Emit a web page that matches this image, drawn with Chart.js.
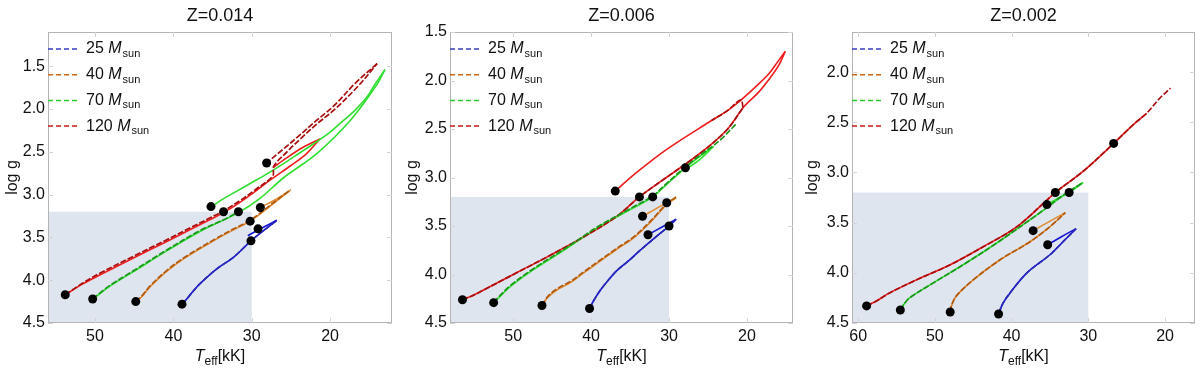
<!DOCTYPE html>
<html>
<head>
<meta charset="utf-8">
<script src="https://cdn.jsdelivr.net/npm/chart.js@4.4.1/dist/chart.umd.min.js"></script>
<style>
body { margin: 0; background: #fff; }
#wrap { display: flex; width: 1200px; height: 370px; }
.panel { width: 400px; height: 370px; }
</style>
</head>
<body>
<div id="wrap">
  <div class="panel"><canvas id="c1" width="400" height="370"></canvas></div>
  <div class="panel"><canvas id="c2" width="400" height="370"></canvas></div>
  <div class="panel"><canvas id="c3" width="400" height="370"></canvas></div>
</div>
<script>
// tracks: [Teff (kK), log g]

const masses = ["25", "40", "70", "120"];
const panelTitles = ["Z=0.014", "Z=0.006", "Z=0.002"];

// ---- Z=0.014 ----
const z014_25_solid = [[38.9,4.28],[38.3,4.22],[37.4,4.12],[36.6,4.04],[34.5,3.87],[32.3,3.73],[30.1,3.54],[28.5,3.42],[26.8,3.30],[28.7,3.39],[30.5,3.48]];
const z014_25_dash = [[38.9,4.28],[38.3,4.22],[37.4,4.12],[36.6,4.04],[34.5,3.87],[32.3,3.73],[30.1,3.54],[28.5,3.42],[26.9,3.31]];
const z014_40_solid = [[44.8,4.25],[44.0,4.19],[43.0,4.08],[40.9,3.90],[38.7,3.75],[34.5,3.52],[32.3,3.41],[30.2,3.31],[27.6,3.13],[25.1,2.95],[27.0,3.06],[28.9,3.15]];
const z014_40_dash = [[44.8,4.25],[44.0,4.18],[43.0,4.07],[40.9,3.89],[38.7,3.74],[34.5,3.51],[32.3,3.40],[30.2,3.30],[27.6,3.12],[25.0,2.94]];
const z014_70_solid = [[50.3,4.22],[49.4,4.16],[48.1,4.07],[45.1,3.90],[40.9,3.66],[36.6,3.43],[31.7,3.21],[28.9,3.04],[25.9,2.80],[21.7,2.52],[17.4,2.13],[14.0,1.71],[13.0,1.54],[14.2,1.70],[15.3,1.86],[17.0,2.03],[18.5,2.15],[20.0,2.27],[22.0,2.40],[24.0,2.52],[26.0,2.64],[28.1,2.76],[30.2,2.87],[32.3,2.98],[34.0,3.07],[35.5,3.17]];
const z014_70_dash = [[50.3,4.22],[49.4,4.15],[48.1,4.06],[45.1,3.89],[40.9,3.65],[36.6,3.42],[33.5,3.29],[31.7,3.20]];
const z014_120_solid = [[53.8,4.17],[51.5,4.04],[49.4,3.94],[45.1,3.74],[40.9,3.55],[37.9,3.41],[35.5,3.30],[33.6,3.21],[31.5,3.09],[29.5,2.96],[27.5,2.82],[25.0,2.66],[23.0,2.52],[21.3,2.35],[23.5,2.45],[26.0,2.60],[27.2,2.68]];
const z014_120_dash = [[53.8,4.17],[51.5,4.03],[49.4,3.92],[45.1,3.72],[40.9,3.53],[37.9,3.39],[35.5,3.28],[33.6,3.19],[31.5,3.07],[29.5,2.94],[27.3,2.78],[27.2,2.67],[25.5,2.50],[23.8,2.35],[21.5,2.16],[19.6,2.02],[16.5,1.74],[14.0,1.47],[16.8,1.70],[19.6,1.97],[21.7,2.13],[23.8,2.30],[26.0,2.47],[28.1,2.63]];
const z014_dots = [[38.9,4.28],[30.1,3.54],[29.2,3.40],[44.8,4.25],[30.2,3.31],[28.9,3.15],[50.3,4.22],[31.7,3.20],[35.2,3.14],[53.8,4.17],[33.6,3.20],[28.1,2.63]];

// ---- Z=0.006 ----
const z006_25_solid = [[40.2,4.35],[39.6,4.26],[38.8,4.16],[37.8,4.06],[36.7,3.96],[35.2,3.86],[33.7,3.75],[31.8,3.62],[30.0,3.50],[29.1,3.43],[30.9,3.51],[32.7,3.59]];
const z006_25_dash = [[40.2,4.35],[39.6,4.26],[38.8,4.16],[37.8,4.06],[36.7,3.96],[35.2,3.86],[33.7,3.75],[31.8,3.62],[30.0,3.50],[29.1,3.43]];
const z006_40_solid = [[46.3,4.32],[45.6,4.24],[44.4,4.16],[42.6,4.08],[40.9,3.98],[38.8,3.86],[36.7,3.74],[34.5,3.62],[32.5,3.47],[30.3,3.28],[29.1,3.21],[31.2,3.30],[33.4,3.40]];
const z006_40_dash = [[46.3,4.32],[45.6,4.23],[44.4,4.15],[42.6,4.07],[40.9,3.97],[38.8,3.85],[36.7,3.73],[34.5,3.61],[32.5,3.46],[30.3,3.27],[29.1,3.20]];
const z006_70_solid = [[52.5,4.29],[51.6,4.22],[50.3,4.12],[47.4,3.95],[43.1,3.73],[38.8,3.50],[34.5,3.31],[32.1,3.20],[30.3,3.07],[27.9,2.90],[26.0,2.78],[24.3,2.68],[26.0,2.81],[27.9,2.92]];
const z006_70_dash = [[52.5,4.29],[51.6,4.21],[50.3,4.11],[47.4,3.94],[43.1,3.72],[38.8,3.49],[34.5,3.30],[32.1,3.19],[30.3,3.06],[27.9,2.89],[26.0,2.77],[24.3,2.67],[23.0,2.58],[21.3,2.44]];
const z006_120_solid = [[56.5,4.26],[55.0,4.21],[53.8,4.16],[49.5,3.98],[45.2,3.80],[40.9,3.61],[36.7,3.40],[33.8,3.20],[30.7,3.02],[26.0,2.75],[22.6,2.51],[20.4,2.27],[18.5,2.12],[17.0,1.97],[15.9,1.84],[15.1,1.70],[16.0,1.80],[17.2,1.93],[18.7,2.05],[20.9,2.21],[22.5,2.31],[24.7,2.42],[30.3,2.71],[34.5,2.97],[36.9,3.14]];
const z006_120_dash = [[56.5,4.26],[55.0,4.21],[53.8,4.16],[49.5,3.98],[45.2,3.80],[40.9,3.61],[36.7,3.40],[33.8,3.20],[30.7,3.02],[26.0,2.75],[22.6,2.51],[20.5,2.28],[20.8,2.20],[22.5,2.31],[24.5,2.41]];
const z006_dots = [[40.2,4.35],[30.0,3.50],[32.7,3.59],[46.3,4.32],[30.3,3.26],[33.4,3.40],[52.5,4.29],[32.1,3.20],[27.9,2.90],[56.5,4.26],[33.8,3.20],[36.9,3.14]];

// ---- Z=0.002 ----
const z002_25_solid = [[41.7,4.41],[41.1,4.30],[40.2,4.20],[38.0,4.00],[35.0,3.82],[33.3,3.69],[31.6,3.56],[33.5,3.64],[35.3,3.72]];
const z002_25_dash = [[41.7,4.41],[41.1,4.30],[40.2,4.20],[38.0,4.00],[35.0,3.82],[33.3,3.69],[31.6,3.56]];
const z002_40_solid = [[48.0,4.39],[47.8,4.32],[47.2,4.23],[45.0,4.07],[41.5,3.87],[37.6,3.69],[35.0,3.54],[33.0,3.40],[35.1,3.49],[37.2,3.58]];
const z002_40_dash = [[48.0,4.39],[47.8,4.32],[47.2,4.23],[45.0,4.07],[41.5,3.87],[37.6,3.69],[35.0,3.54],[33.0,3.40]];
const z002_70_solid = [[54.5,4.37],[54.1,4.32],[53.3,4.25],[50.2,4.10],[45.9,3.90],[41.5,3.68],[37.2,3.45],[35.4,3.35],[33.5,3.24],[30.7,3.10],[32.5,3.20],[34.0,3.26],[35.4,3.32]];
const z002_70_dash = [[54.5,4.37],[54.1,4.32],[53.3,4.25],[50.2,4.10],[45.9,3.90],[41.5,3.68],[37.2,3.45],[35.4,3.35],[33.5,3.24],[30.7,3.10]];
const z002_120_solid = [[58.9,4.33],[57.6,4.28],[55.9,4.20],[52.4,4.07],[48.0,3.92],[43.7,3.74],[39.3,3.54],[34.3,3.20],[30.7,2.99],[26.7,2.71],[24.1,2.52],[22.4,2.41]];
const z002_120_dash = [[58.9,4.33],[57.6,4.28],[55.9,4.20],[52.4,4.07],[48.0,3.92],[43.7,3.74],[39.3,3.54],[34.3,3.20],[30.7,2.99],[26.7,2.71],[24.1,2.52],[22.4,2.41],[20.7,2.26],[19.3,2.16]];
const z002_dots = [[41.7,4.41],[35.3,3.72],[48.0,4.39],[37.2,3.58],[54.5,4.37],[35.4,3.32],[32.5,3.20],[58.9,4.33],[34.3,3.20],[26.7,2.71]];

// axes
const xTicks014 = [50, 40, 30, 20];
const xTicks006 = [50, 40, 30, 20];
const xTicks002 = [60, 50, 40, 30, 20];
const yTicks014 = [1.5, 2.0, 2.5, 3.0, 3.5, 4.0, 4.5];
const yTicks006 = [1.5, 2.0, 2.5, 3.0, 3.5, 4.0, 4.5];
const yTicks002 = [2.0, 2.5, 3.0, 3.5, 4.0, 4.5];

const solidColors = ["#1414d4", "#e08a30", "#30de30", "#ee1c1c"];
const dashColors = ["#2a2ab4", "#b05a10", "#1c961c", "#a80e0e"];
const legendColors = ["#3a3ac8", "#c8661a", "#30c830", "#c81818"];

const FONT = "'Liberation Sans', Arial, sans-serif";

function pts(arr) {
    return arr.map(p => ({ x: p[0], y: p[1] }));
}

// split a track where Teff turns back, so each piece can be smoothed without rounding the tips
function pieces(arr) {
    const out = [];
    let cur = [arr[0]];
    let dir = 0;
    for (let i = 1; i < arr.length; i++) {
        const d = Math.sign(arr[i][0] - arr[i - 1][0]);
        if (dir !== 0 && d !== 0 && d !== dir) {
            out.push(cur);
            cur = [arr[i - 1]];
        }
        if (d !== 0) dir = d;
        cur.push(arr[i]);
    }
    out.push(cur);
    return out;
}

function drawMass(ctx, x, y, num) {
    ctx.textBaseline = "middle";
    ctx.textAlign = "left";
    ctx.font = "16px " + FONT;
    ctx.fillText(num + " ", x, y);
    x += ctx.measureText(num + " ").width;
    ctx.font = "italic 16px " + FONT;
    ctx.fillText("M", x, y);
    x += ctx.measureText("M").width + 1;
    ctx.font = "11px " + FONT;
    ctx.fillText("sun", x, y + 5);
}

const shadePlugin = {
    id: "shade",
    beforeDatasetsDraw(chart) {
        const { ctx, chartArea: a, scales } = chart;
        const x30 = scales.x.getPixelForValue(30);
        const y32 = scales.y.getPixelForValue(3.2);
        ctx.save();
        ctx.fillStyle = "#dfe5ef";
        ctx.fillRect(a.left, y32, x30 - a.left, a.bottom - y32);
        ctx.restore();
    }
};

const decorPlugin = {
    id: "decor",
    afterDraw(chart, args, opts) {
        const { ctx, chartArea: a, scales } = chart;
        ctx.save();
        // frame
        ctx.strokeStyle = "#b4b4b4";
        ctx.lineWidth = 1;
        ctx.strokeRect(a.left + 0.5, a.top + 0.5, a.right - a.left - 1, a.bottom - a.top - 1);
        // tick marks on the frame
        ctx.strokeStyle = "#d4d4d4";
        ctx.beginPath();
        scales.x.ticks.forEach(t => {
            const px = Math.round(scales.x.getPixelForValue(t.value)) + 0.5;
            ctx.moveTo(px, a.bottom); ctx.lineTo(px, a.bottom - 5);
            ctx.moveTo(px, a.top); ctx.lineTo(px, a.top + 5);
        });
        scales.y.ticks.forEach(t => {
            const py = Math.round(scales.y.getPixelForValue(t.value)) + 0.5;
            ctx.moveTo(a.left, py); ctx.lineTo(a.left + 5, py);
            ctx.moveTo(a.right, py); ctx.lineTo(a.right - 5, py);
        });
        ctx.stroke();

        ctx.fillStyle = "#111";
        // title
        ctx.font = "18px " + FONT;
        ctx.textAlign = "center";
        ctx.textBaseline = "middle";
        ctx.fillText(opts.title, (a.left + a.right) / 2, 16);

        // x title: T_eff[kK]
        ctx.font = "italic 16px " + FONT;
        const w1 = ctx.measureText("T").width;
        ctx.font = "12px " + FONT;
        const w2 = ctx.measureText("eff").width;
        ctx.font = "16px " + FONT;
        const w3 = ctx.measureText("[kK]").width;
        let x = (a.left + a.right) / 2 - (w1 + w2 + w3) / 2;
        const y = 357;
        ctx.textAlign = "left";
        ctx.font = "italic 16px " + FONT;
        ctx.fillText("T", x, y); x += w1;
        ctx.font = "12px " + FONT;
        ctx.fillText("eff", x, y + 5); x += w2;
        ctx.font = "16px " + FONT;
        ctx.fillText("[kK]", x, y);

        // y title
        ctx.save();
        ctx.translate(13, (a.top + a.bottom) / 2);
        ctx.rotate(-Math.PI / 2);
        ctx.textAlign = "center";
        ctx.font = "16px " + FONT;
        ctx.fillText("log g", 0, 0);
        ctx.restore();

        // legend
        masses.forEach((m, i) => {
            const ly = a.top + 17 + i * 25.7;
            ctx.strokeStyle = legendColors[i];
            ctx.lineWidth = 1.5;
            ctx.setLineDash([5, 3]);
            ctx.beginPath();
            ctx.moveTo(a.left, ly);
            ctx.lineTo(a.left + 30, ly);
            ctx.stroke();
            ctx.setLineDash([]);
            ctx.fillStyle = "#111";
            drawMass(ctx, a.left + 38, ly, m);
        });
        ctx.restore();
    }
};

function makeChart(id, title, tracks, dots, xr, yr, xTicks, yTicks, box) {
    const datasets = [{
        data: pts(dots),
        showLine: false,
        pointRadius: 4.5,
        pointBackgroundColor: "#000",
        pointBorderWidth: 0
    }];
    tracks.forEach((t, i) => {
        pieces(t.dash).forEach(p => {
            datasets.push({
                data: pts(p),
                showLine: true,
                tension: 0.35,
                borderColor: dashColors[i],
                borderWidth: 1.7,
                borderDash: [6, 2],
                pointRadius: 0
            });
        });
    });
    tracks.forEach((t, i) => {
        pieces(t.solid).forEach(p => {
            datasets.push({
                data: pts(p),
                showLine: true,
                tension: 0.35,
                borderColor: solidColors[i],
                borderWidth: 1.6,
                pointRadius: 0
            });
        });
    });

    const tickFont = { family: FONT, size: 16 };

    return new Chart(document.getElementById(id), {
        type: "scatter",
        data: { datasets: datasets },
        options: {
            responsive: false,
            animation: false,
            layout: { padding: { top: box.top, right: 400 - box.right, bottom: 0, left: 0 } },
            plugins: {
                legend: { display: false },
                tooltip: { enabled: false },
                decor: { title: title }
            },
            scales: {
                x: {
                    type: "linear",
                    reverse: true,
                    min: xr[0], max: xr[1],
                    grid: { display: false, drawTicks: false },
                    border: { display: false },
                    ticks: { font: tickFont, color: "#111", padding: 4, maxRotation: 0 },
                    afterBuildTicks: s => { s.ticks = xTicks.map(v => ({ value: v })); },
                    afterFit: s => { s.height = 370 - box.bottom; }
                },
                y: {
                    type: "linear",
                    reverse: true,
                    min: yr[0], max: yr[1],
                    grid: { display: false, drawTicks: false },
                    border: { display: false },
                    ticks: { font: tickFont, color: "#111", padding: 3, callback: v => v.toFixed(1) },
                    afterBuildTicks: s => { s.ticks = yTicks.map(v => ({ value: v })); },
                    afterFit: s => { s.width = box.left; }
                }
            }
        },
        plugins: [shadePlugin, decorPlugin]
    });
}

makeChart("c1", panelTitles[0],
    [{ solid: z014_25_solid, dash: z014_25_dash }, { solid: z014_40_solid, dash: z014_40_dash },
     { solid: z014_70_solid, dash: z014_70_dash }, { solid: z014_120_solid, dash: z014_120_dash }],
    z014_dots, [12.1, 56.0], [1.1, 4.5], xTicks014, yTicks014,
    { left: 48, right: 392, top: 32, bottom: 323 });

makeChart("c2", panelTitles[1],
    [{ solid: z006_25_solid, dash: z006_25_dash }, { solid: z006_40_solid, dash: z006_40_dash },
     { solid: z006_70_solid, dash: z006_70_dash }, { solid: z006_120_solid, dash: z006_120_dash }],
    z006_dots, [14.1, 58.1], [1.5, 4.5], xTicks006, yTicks006,
    { left: 50, right: 393, top: 32, bottom: 323 });

makeChart("c3", panelTitles[2],
    [{ solid: z002_25_solid, dash: z002_25_dash }, { solid: z002_40_solid, dash: z002_40_dash },
     { solid: z002_70_solid, dash: z002_70_dash }, { solid: z002_120_solid, dash: z002_120_dash }],
    z002_dots, [16.1, 60.8], [1.6, 4.5], xTicks002, yTicks002,
    { left: 52, right: 395, top: 32, bottom: 323 });
</script>
</body>
</html>
